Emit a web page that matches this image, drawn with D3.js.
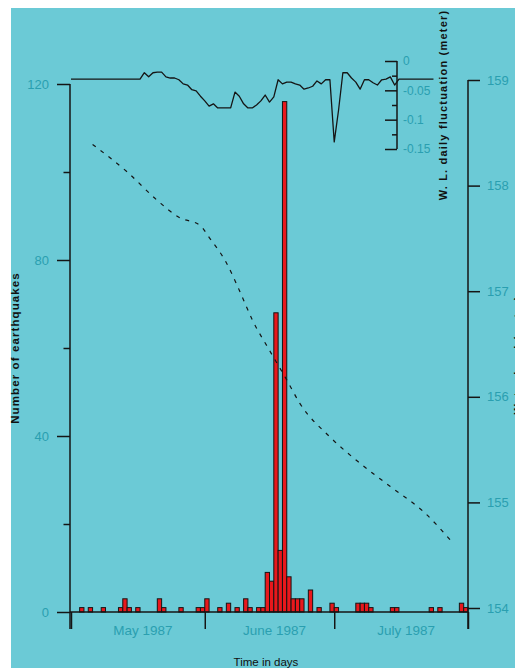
<!DOCTYPE html>
<html>
<head>
<meta charset="utf-8">
<script src="https://cdn.jsdelivr.net/npm/d3@7"></script>
<style>
  html, body { margin: 0; padding: 0; background: #ffffff; }
  svg { display: block; }
  .lbl { font-family: "Liberation Sans Narrow", "Arial Narrow", "Liberation Sans", Arial, sans-serif; fill: #2a9fb0; }
  .ttl { font-family: "Liberation Sans", Arial, sans-serif; fill: #111; }
</style>
</head>
<body>
<svg id="chart" width="515" height="668"></svg>
<script>
// Daily number of earthquakes
const quakeDates = [
  "1987-05-03","1987-05-05","1987-05-08","1987-05-12","1987-05-13","1987-05-14","1987-05-16",
  "1987-05-21","1987-05-22","1987-05-26","1987-05-30","1987-05-31","1987-06-01","1987-06-04",
  "1987-06-06","1987-06-08","1987-06-10","1987-06-11","1987-06-13","1987-06-14","1987-06-15",
  "1987-06-16","1987-06-17","1987-06-18","1987-06-19","1987-06-20","1987-06-21","1987-06-22",
  "1987-06-23","1987-06-25","1987-06-27","1987-06-30","1987-07-01","1987-07-06","1987-07-07",
  "1987-07-08","1987-07-09","1987-07-14","1987-07-15","1987-07-23","1987-07-25","1987-07-30",
  "1987-07-31"
];
const quakeCounts = [
  1, 1, 1, 1, 3, 1, 1,
  3, 1, 1, 1, 1, 3, 1,
  2, 1, 3, 1, 1, 1, 9,
  7, 68, 14, 116, 8, 3, 3,
  3, 5, 1, 2, 1, 2, 2,
  2, 1, 1, 1, 1, 1, 2,
  1
];

// Reservoir water level (m)
const levelDates = [
  "1987-05-06","1987-05-14","1987-05-21","1987-05-26","1987-05-31","1987-06-02","1987-06-06",
  "1987-06-09","1987-06-12","1987-06-16","1987-06-20","1987-06-23","1987-06-30","1987-07-07",
  "1987-07-14","1987-07-22","1987-07-28"
];
const levelValues = [
  158.39, 158.13, 157.86, 157.70, 157.62, 157.51, 157.27,
  157.01, 156.73, 156.44, 156.16, 155.94, 155.62, 155.37,
  155.15, 154.90, 154.64
];

// Daily water-level fluctuation (m), one value per day from 1 May 1987
const flucStart = "1987-05-01";
const flucValues = [
  -0.031,-0.031,-0.031,-0.031,-0.031,-0.031,-0.031,-0.031,-0.031,-0.031,
  -0.031,-0.031,-0.031,-0.031,-0.031,-0.031,-0.031,-0.020,-0.027,-0.020,
  -0.019,-0.019,-0.027,-0.029,-0.029,-0.032,-0.039,-0.041,-0.049,-0.051,
  -0.060,-0.068,-0.077,-0.073,-0.080,-0.080,-0.080,-0.080,-0.053,-0.060,
  -0.073,-0.080,-0.080,-0.075,-0.068,-0.058,-0.070,-0.061,-0.032,-0.039,
  -0.036,-0.036,-0.039,-0.041,-0.048,-0.046,-0.043,-0.034,-0.039,-0.032,
  -0.032,-0.138,-0.084,-0.020,-0.020,-0.029,-0.036,-0.048,-0.032,-0.032,
  -0.037,-0.041,-0.032,-0.031,-0.027,-0.041,-0.031,-0.031,-0.031,-0.031,
  -0.031,-0.031,-0.031,-0.031,-0.031
];

// Axis ticks and labels
const countMajor = [0, 40, 80, 120];
const countMinor = [20, 60, 100];
const levelTicks = [154, 155, 156, 157, 158, 159];
const flucMajor = [0, -0.05, -0.1, -0.15];
const flucMinor = [-0.025, -0.075, -0.125];
const flucTickLabels = ["0", "-0.05", "-0.1", "-0.15"];
const monthLabels = ["May 1987", "June 1987", "July 1987"];

const parse = d3.utcParse("%Y-%m-%d");
const svg = d3.select("#chart");
const W = 515, H = 668;
const ink = "#151515";

// page background
svg.append("rect").attr("width", W).attr("height", H).attr("fill", "#ffffff");
svg.append("rect").attr("x", 11).attr("y", 8).attr("width", W - 11).attr("height", H - 8)
  .attr("fill", "#6bcad6");

// scales
const x = d3.scaleUtc().domain([parse("1987-05-01"), parse("1987-08-01")]).range([71, 468]);
const yCount = d3.scaleLinear().domain([0, 120]).range([612, 84]);
const yLevel = d3.scaleLinear().domain([154, 159]).range([608, 80]);
const yFluc = d3.scaleLinear().domain([-0.15, 0]).range([149, 61]);

// earthquake bars
const quakes = quakeDates.map((d, i) => ({ date: parse(d), n: quakeCounts[i] }));
svg.append("g").selectAll("rect").data(quakes).join("rect")
  .attr("x", d => x(d.date))
  .attr("width", d => x(d3.utcDay.offset(d.date, 1)) - x(d.date))
  .attr("y", d => yCount(d.n))
  .attr("height", d => yCount(0) - yCount(d.n))
  .attr("fill", "#e8181c")
  .attr("stroke", ink)
  .attr("stroke-width", 1);

// water level (dashed)
const level = levelDates.map((d, i) => ({ date: parse(d), v: levelValues[i] }));
svg.append("path").datum(level)
  .attr("fill", "none").attr("stroke", ink).attr("stroke-width", 1.2)
  .attr("stroke-dasharray", "4,6")
  .attr("d", d3.line().x(d => x(d.date)).y(d => yLevel(d.v)).curve(d3.curveMonotoneX));

// daily fluctuation line
const fluc = flucValues.map((v, i) => ({ date: d3.utcDay.offset(parse(flucStart), i), v }));
svg.append("path").datum(fluc)
  .attr("fill", "none").attr("stroke", ink).attr("stroke-width", 1.3)
  .attr("stroke-linejoin", "round")
  .attr("d", d3.line().x(d => x(d.date)).y(d => yFluc(d.v)));

function styleAxis(g) {
  g.selectAll(".domain").remove();
  g.selectAll(".tick line").attr("stroke", ink).attr("stroke-width", 1.5);
}

// left axis: number of earthquakes
svg.append("line").attr("x1", 70).attr("x2", 70).attr("y1", yCount(120)).attr("y2", 629)
  .attr("stroke", ink).attr("stroke-width", 1.5);
svg.append("g").attr("transform", "translate(70,0)")
  .call(d3.axisLeft(yCount).tickValues(countMajor).tickSize(13).tickPadding(8).tickFormat(d3.format("d")))
  .call(styleAxis)
  .call(g => g.selectAll("text").attr("class", "lbl").attr("font-size", 13).attr("fill", null));
svg.append("g").attr("transform", "translate(70,0)")
  .call(d3.axisLeft(yCount).tickValues(countMinor).tickSize(6.5).tickFormat(""))
  .call(styleAxis);

// bottom axis: months
svg.append("line").attr("x1", 70).attr("x2", 468).attr("y1", 612).attr("y2", 612)
  .attr("stroke", ink).attr("stroke-width", 1.5);
svg.append("g").attr("transform", "translate(0,612)")
  .call(d3.axisBottom(x).ticks(d3.utcMonth.every(1)).tickSize(17).tickFormat(""))
  .call(styleAxis);
const months = d3.utcMonth.range(parse("1987-05-01"), parse("1987-08-01"));
svg.append("g").selectAll("text").data(months).join("text")
  .attr("class", "lbl")
  .attr("x", d => (x(d) + x(d3.utcMonth.offset(d, 1))) / 2 + 5)
  .attr("y", 635)
  .attr("text-anchor", "middle")
  .attr("font-size", 13.5)
  .text((d, i) => monthLabels[i]);

// right axis: water level
svg.append("line").attr("x1", 468).attr("x2", 468).attr("y1", yLevel(159)).attr("y2", 629)
  .attr("stroke", ink).attr("stroke-width", 1.5);
svg.append("g").attr("transform", "translate(468,0)")
  .call(d3.axisRight(yLevel).tickValues(levelTicks).tickSize(12).tickPadding(7).tickFormat(d3.format("d")))
  .call(styleAxis)
  .call(g => g.selectAll("text").attr("class", "lbl").attr("font-size", 13).attr("fill", null));

// inset axis: daily fluctuation
svg.append("line").attr("x1", 397).attr("x2", 397).attr("y1", yFluc(0)).attr("y2", yFluc(-0.15))
  .attr("stroke", ink).attr("stroke-width", 1.5);
svg.append("g").attr("transform", "translate(397,0)")
  .call(d3.axisRight(yFluc).tickValues(flucMajor).tickSize(-12).tickPadding(6)
    .tickFormat((d, i) => flucTickLabels[i]))
  .call(styleAxis)
  .call(g => g.selectAll("text").attr("class", "lbl").attr("font-size", 12).attr("fill", null));
svg.append("g").attr("transform", "translate(397,0)")
  .call(d3.axisRight(yFluc).tickValues(flucMinor).tickSize(-5).tickFormat(""))
  .call(styleAxis);

// axis titles
svg.append("text").attr("class", "ttl")
  .attr("transform", "translate(19,348) rotate(-90)")
  .attr("text-anchor", "middle").attr("font-size", 11.5).attr("font-weight", "bold")
  .attr("letter-spacing", 1.1)
  .text("Number of earthquakes");
svg.append("text").attr("class", "ttl")
  .attr("transform", "translate(447,105) rotate(-90)")
  .attr("text-anchor", "middle").attr("font-size", 11).attr("font-weight", "bold")
  .attr("letter-spacing", 1.2)
  .text("W. L. daily fluctuation (meter)");
svg.append("text").attr("class", "ttl")
  .attr("transform", "translate(522,355) rotate(-90)")
  .attr("text-anchor", "middle").attr("font-size", 11).attr("font-weight", "bold")
  .attr("letter-spacing", 1.1)
  .text("Water level (meter)");
svg.append("text").attr("class", "ttl")
  .attr("x", 266).attr("y", 666)
  .attr("text-anchor", "middle").attr("font-size", 11.5)
  .text("Time in days");
</script>
</body>
</html>
